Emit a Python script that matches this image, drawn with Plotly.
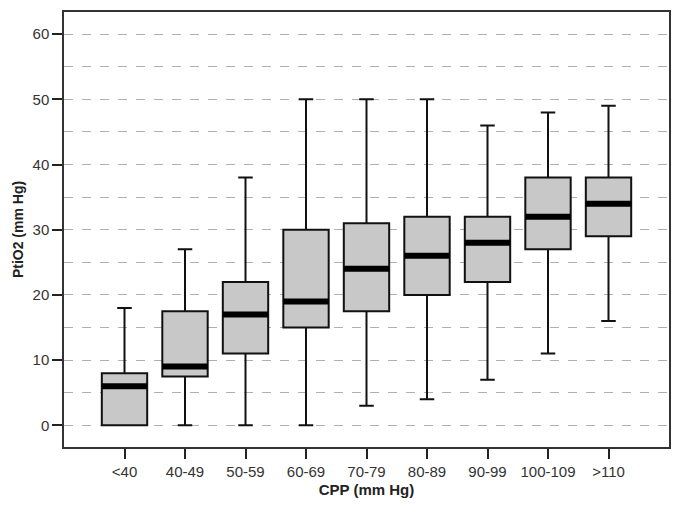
import plotly.graph_objects as go

categories = ["<40", "40-49", "50-59", "60-69", "70-79", "80-89", "90-99", "100-109", ">110"]
lower_fence = [0, 0, 0, 0, 3, 4, 7, 11, 16]
q1 = [0, 7.5, 11, 15, 17.5, 20, 22, 27, 29]
median = [6, 9, 17, 19, 24, 26, 28, 32, 34]
q3 = [8, 17.5, 22, 30, 31, 32, 32, 38, 38]
upper_fence = [18, 27, 38, 50, 50, 50, 46, 48, 49]

BOX_W = 0.75
xs = list(range(len(categories)))

fig = go.Figure()
fig.add_trace(go.Box(
    x=xs, q1=q1, median=median, q3=q3,
    lowerfence=lower_fence, upperfence=upper_fence,
    width=BOX_W, whiskerwidth=0.32,
    fillcolor="#c8c8c8",
    line=dict(color="#111111", width=2),
    boxpoints=False, hoverinfo="skip", showlegend=False,
))

shapes = []
for i, m in enumerate(median):
    shapes.append(dict(
        type="rect", xref="x", yref="y",
        x0=i - BOX_W / 2, x1=i + BOX_W / 2,
        ysizemode="pixel", yanchor=m, y0=-3, y1=3,
        fillcolor="black", line=dict(width=0), layer="above",
    ))

# page body has an 8px default margin, so offset the figure accordingly
fig.update_layout(
    width=677, height=506,
    margin=dict(l=56, r=16, t=4, b=67),
    paper_bgcolor="white", plot_bgcolor="white",
    font=dict(family="Liberation Sans, Arial, sans-serif", size=15, color="#333333"),
    shapes=shapes,
    showlegend=False,
    xaxis=dict(
        range=[-1, 9], tickmode="array", tickvals=xs, ticktext=categories,
        ticks="outside", ticklen=10, tickwidth=1.5, tickcolor="#222222",
        showgrid=False, zeroline=False, automargin=False,
        showline=True, linecolor="#333333", linewidth=1.5, mirror=True,
        title=dict(text="<b>CPP (mm Hg)</b>", font=dict(size=15, color="#222222"), standoff=6),
    ),
    yaxis=dict(
        range=[-3.33, 63.4], tick0=0, dtick=10, automargin=False,
        ticks="outside", ticklen=10, tickwidth=1.5, tickcolor="#222222",
        showgrid=True, gridcolor="#b0b0b0", griddash="dash", gridwidth=1,
        minor=dict(dtick=5, showgrid=True, gridcolor="#b0b0b0", griddash="dash", gridwidth=1),
        zeroline=False,
        showline=True, linecolor="#333333", linewidth=1.5, mirror=True,
        title=dict(text="<b>PtiO2 (mm Hg)</b>", font=dict(size=14, color="#222222"), standoff=6),
    ),
)

fig.write_html("out.html")
